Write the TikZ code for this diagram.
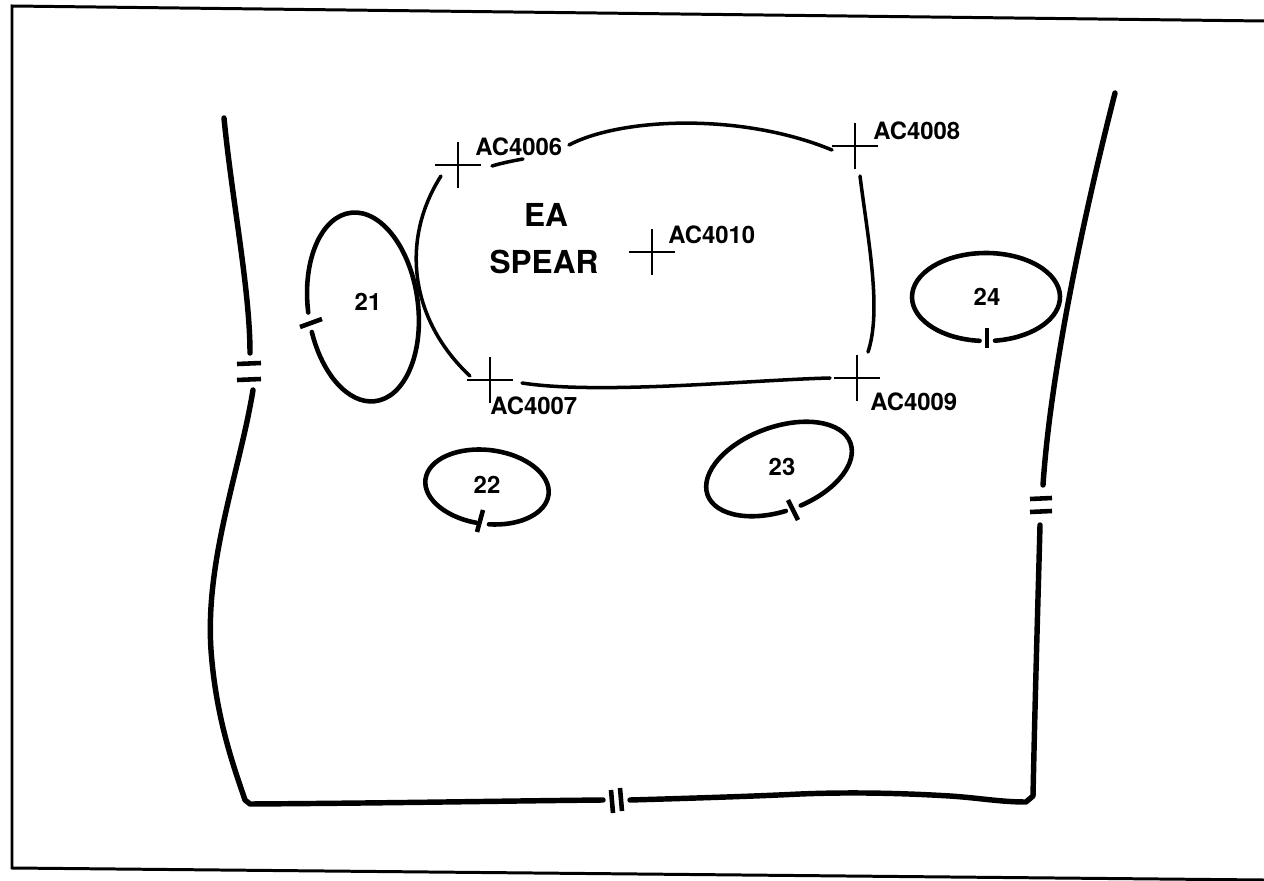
\documentclass[tikz,border=0pt]{standalone}
\usepackage{fontspec}
\setmainfont{TeX Gyre Heros}
\begin{document}
\begin{tikzpicture}[x=0.02cm,y=-0.02cm,
  body/.style={line width=3.1pt,line cap=round,line join=round},
  oval/.style={line width=2.6pt,line cap=round},
  zone/.style={line width=2pt,line cap=round},
  crossline/.style={line width=1.4pt},
  tick/.style={line width=2.6pt},
  lbl/.style={font=\fontsize{13.6}{14}\selectfont\bfseries,inner sep=0pt,anchor=west},
  num/.style={font=\fontsize{13.6}{14}\selectfont\bfseries,inner sep=0pt},
  big/.style={font=\fontsize{18}{20}\selectfont\bfseries,inner sep=0pt}]
\useasboundingbox (0,0) rectangle (1264,881);
% frame
\draw[line width=1.7pt] (1264,21) -- (12,6) -- (12,868) -- (1264,880);
% body outline
\draw[body] (224,118) .. controls (232,200) and (250,290) .. (250,353);
\draw[body] (253,390) .. controls (240,470) and (205,560) .. (211,650)
  .. controls (216,720) and (235,770) .. (245,800) -- (250,804)
  .. controls (400,803) and (500,801) .. (603,800);
\draw[body] (630,800) .. controls (700,798) and (760,796) .. (800,794)
  .. controls (850,792) and (900,793) .. (950,796)
  .. controls (980,798) and (1000,802) .. (1026,802) -- (1033,796)
  .. controls (1035,700) and (1038,600) .. (1040,525);
\draw[body] (1043,485) .. controls (1050,380) and (1080,230) .. (1115,93);
% break marks
\draw[tick] (237,364) -- (261,363);
\draw[tick] (237,380) -- (261,379);
\draw[tick] (1030,499) -- (1052,498);
\draw[tick] (1030,512) -- (1052,511);
\draw[tick] (611,790) -- (613,813);
\draw[tick] (620,788) -- (622,811);
% ovals
\coordinate (c21) at (363,307);
\coordinate (c22) at (487,487);
\coordinate (c23) at (779,469);
\coordinate (c24) at (986,297);
\draw[oval,rotate around={7.5:(c21)}] ([shift={(181:55 and 95)}]c21) arc[start angle=181,end angle=529,x radius=55,y radius=95];
\draw[tick] (300,327) -- (322,319);
\node[num] (n21) at (368,302) {21};
\draw[oval,rotate around={-7:(c22)}] ([shift={(96:62 and 37)}]c22) arc[start angle=96,end angle=444,x radius=62,y radius=37];
\draw[tick] (477,532) -- (483,510);
\node[num] (n22) at (487,485) {22};
\draw[oval,rotate around={20:(c23)}] ([shift={(96:76 and 42)}]c23) arc[start angle=96,end angle=444,x radius=76,y radius=42];
\draw[tick] (788,500) -- (798,520);
\node[num] (n23) at (782,467) {23};
\draw[oval] ([shift={(95:74 and 44)}]c24) arc[start angle=95,end angle=443,x radius=74,y radius=44];
\draw[tick] (987,328) -- (987,348);
\node[num] (n24) at (987,297) {24};
% zone outline
\draw[zone] (492,166) .. controls (502,163) and (512,161) .. (523,159);
\draw[zone] (569,145) .. controls (620,118) and (740,112) .. (832,150);
\draw[zone] (860,176) .. controls (868,240) and (882,310) .. (868,352);
\draw[zone] (522,383) .. controls (600,395) and (750,380) .. (830,378);
\draw[zone] (441,176) .. controls (400,240) and (410,320) .. (470,376);
% crosses
\coordinate (p06) at (458,165);
\coordinate (p08) at (855,146);
\coordinate (p10) at (652,252);
\coordinate (p07) at (490,380);
\coordinate (p09) at (857,378);
\foreach \p in {p06,p08,p10,p07,p09}{
  \draw[crossline] ([xshift=-0.46cm]\p) -- ([xshift=0.46cm]\p);
  \draw[crossline] ([yshift=0.46cm]\p) -- ([yshift=-0.46cm]\p);
}
% labels
\node[lbl] (l06) at (475,147) {AC4006};
\node[lbl] (l08) at (873,131) {AC4008};
\node[lbl] (l10) at (668,235) {AC4010};
\node[lbl] (l07) at (490,406) {AC4007};
\node[lbl] (l09) at (870,402) {AC4009};
\node[big] (ea) at (546,215) {EA};
\node[big] (spear) at (544,262) {SPEAR};
\end{tikzpicture}
\end{document}
